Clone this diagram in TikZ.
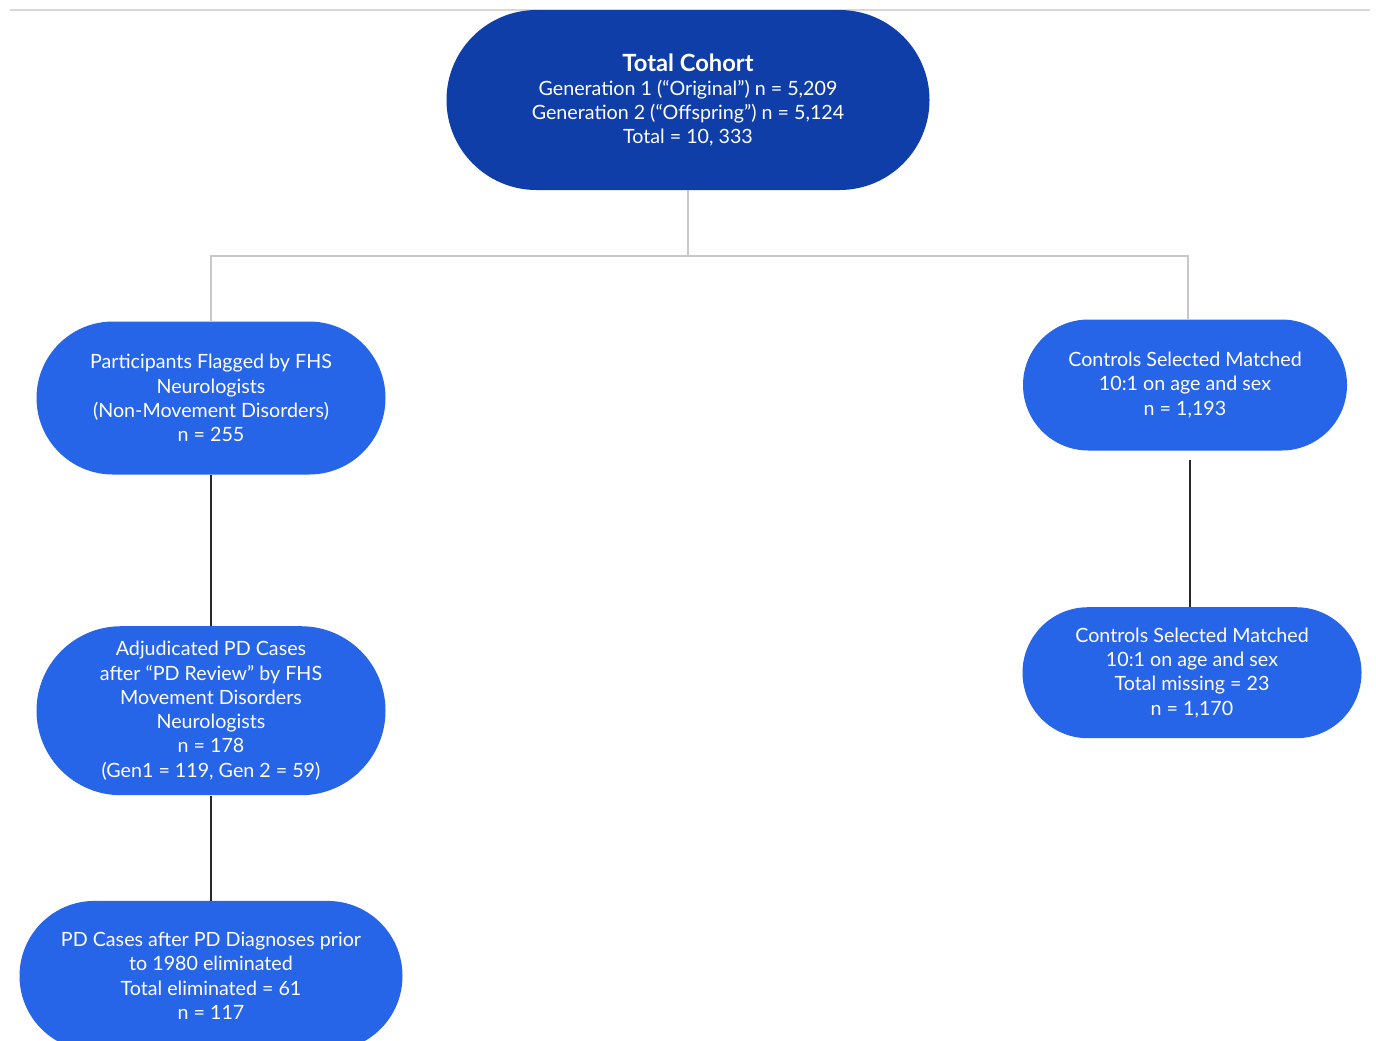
\documentclass[tikz,border=0pt]{standalone}
\usepackage{fontspec}
\setmainfont{Lato}
\usepackage{tikz}
\usetikzlibrary{positioning}
\definecolor{cohortblue}{RGB}{16,62,168}
\definecolor{stageblue}{RGB}{38,100,232}
\definecolor{linkgrey}{RGB}{200,200,200}
\definecolor{linkdark}{RGB}{40,40,40}
\tikzset{
  cohort/.style={rectangle, fill=cohortblue, text=white, align=center,
    minimum width=9.66cm, minimum height=3.6cm, rounded corners=1.8cm,
    font=\fontsize{11.2}{13.8}\selectfont},
  stage/.style={rectangle, fill=stageblue, text=white, align=center,
    font=\fontsize{11.2}{13.8}\selectfont},
  greylink/.style={line width=1.1pt, color=linkgrey},
  darklink/.style={line width=1.1pt, color=linkdark}
}
\begin{document}
\begin{tikzpicture}
  \useasboundingbox (0,0) rectangle (27.52,-20.8);
  \fill[white] (0,0) rectangle (27.52,-20.8);
  \draw[linkgrey!70, line width=0.8pt] (0.2,-0.2) -- (27.4,-0.2);
  \node[cohort] (total) at (13.76,-2.0)
    {{\fontsize{13.5}{16}\selectfont\bfseries Total Cohort}\\
     Generation 1 (“Original”) n = 5,209\\
     Generation 2 (“Offspring”) n = 5,124\\
     Total = 10, 333};
  \node[stage, minimum width=6.98cm, minimum height=3.06cm,
    rounded corners=1.53cm] (flagged) at (4.22,-7.96)
    {Participants Flagged by FHS\\ Neurologists\\
     (Non-Movement Disorders)\\ n = 255};
  \node[stage, minimum width=6.48cm, minimum height=2.62cm,
    rounded corners=1.31cm] (controls) at (23.7,-7.7)
    {Controls Selected Matched\\ 10:1 on age and sex\\ n = 1,193};
  \node[stage, minimum width=6.98cm, minimum height=3.38cm,
    rounded corners=1.69cm, below=3.02cm of flagged] (adjudicated)
    {Adjudicated PD Cases\\ after “PD Review” by FHS\\
     Movement Disorders\\ Neurologists\\ n = 178\\
     (Gen1 = 119, Gen 2 = 59)};
  \node[stage, minimum width=7.66cm, minimum height=3.0cm,
    rounded corners=1.5cm, below=2.1cm of adjudicated] (pdcases)
    {PD Cases after PD Diagnoses prior\\ to 1980 eliminated\\
     Total eliminated = 61\\ n = 117};
  \node[stage, minimum width=6.78cm, minimum height=2.62cm,
    rounded corners=1.31cm, below=3.12cm of controls, xshift=0.14cm] (matched)
    {Controls Selected Matched\\ 10:1 on age and sex\\
     Total missing = 23\\ n = 1,170};
  \coordinate (split) at (13.76,-5.12);
  \draw[greylink] (total.south) -- (split);
  \draw[greylink] (split) -| (flagged.north);
  \draw[greylink] (split) -| ([xshift=0.06cm]controls.north);
  \draw[darklink] (flagged) -- (adjudicated);
  \draw[darklink] (adjudicated) -- (pdcases);
  \draw[darklink] ([xshift=0.1cm, yshift=-0.18cm]controls.south)
    -- ([xshift=0.1cm]controls.south |- matched.north);
\end{tikzpicture}
\end{document}
